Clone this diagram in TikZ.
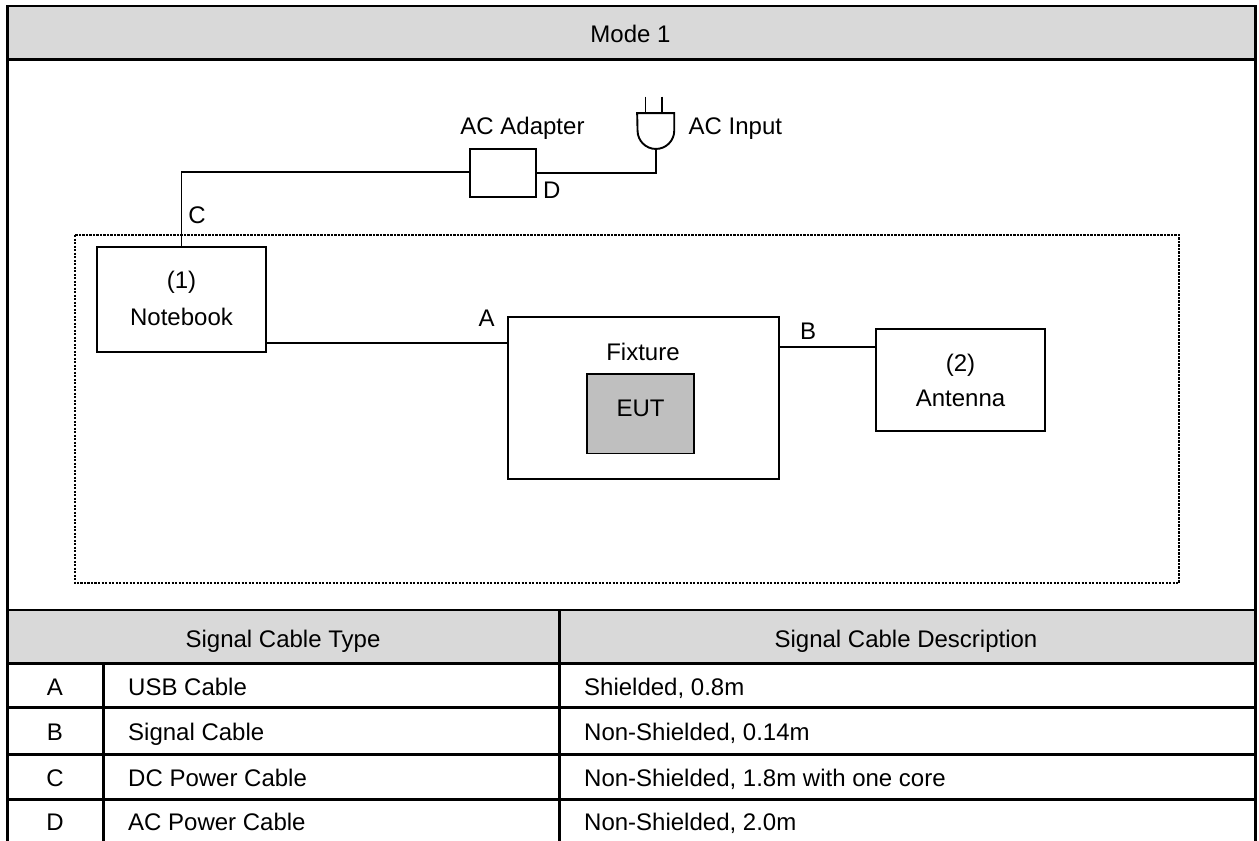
\documentclass[tikz,border=0pt]{standalone}
\usepackage{fontspec}
\setmainfont{Liberation Sans}
\tikzset{
  x=1pt,y=-1pt,
  label text/.style={inner sep=0pt,font=\fontsize{24}{28}\selectfont,text=black,anchor=base},
  unit/.style={draw=black,line width=1.9pt,fill=white,inner sep=0pt,align=center,font=\fontsize{24}{37}\selectfont},
  cable/.style={draw=black,line width=1.9pt},
  rule/.style={draw=black,line width=2.7pt},
  thinrule/.style={draw=black,line width=2.1pt},
  band/.style={fill=black!15,draw=none},
  cell/.style={label text,anchor=base west},
  head/.style={label text}
}
\newcommand{\unitbox}[7]{\node[unit,minimum width=#4 pt,minimum height=#5 pt,#6] (#1) at (#2,#3) {#7};}
\begin{document}
\begin{tikzpicture}
\useasboundingbox (0,0) rectangle (1259,841);
\fill[white] (0,0) rectangle (1259,841);
% bands
\fill[band] (7.5,6) rectangle (1255,59);
\fill[band] (7.5,610) rectangle (1255,664);
% dotted enclosure
\draw[line width=2.6pt,dash pattern=on 2.3pt off 1.2pt] (75,235) rectangle (1179,583);
% units
\unitbox{notebook}{181.5}{299.5}{169}{105}{text depth=3.4pt}{(1)\\Notebook}
\unitbox{fixture}{643.5}{398}{270.4}{161.4}{}{}
\unitbox{eut}{640.5}{413.7}{107.6}{79.5}{fill=black!25,text depth=11pt}{EUT}
\unitbox{antenna}{960.5}{380}{169}{102}{font=\fontsize{24}{35}\selectfont}{(2)\\Antenna}
\unitbox{adapter}{503.3}{172.7}{66}{48}{}{}
% plug
\node[inner sep=0pt,minimum width=36.7pt,minimum height=35.8pt] (plug) at (655.7,131.2) {};
\draw[line width=1.9pt] (plug.north west) -- (plug.north east) -- ++(0,17.5) arc[start angle=0,end angle=-180,radius=18.35pt] -- cycle;
\coordinate (p1) at (645.5,96.7);
\coordinate (p2) at (662,96.7);
\draw[cable] (p1) -- (p1 |- plug.north);
\draw[cable] (p2) -- (p2 |- plug.north);
% connectors
\draw[cable] ([yshift=0.7pt]adapter.west) -| (notebook.north);
\draw[cable] (adapter.east) -| (plug.south);
\draw[cable] ([yshift=-43.2pt]notebook.east) -- ([yshift=55.3pt]fixture.west);
\draw[cable] ([yshift=50.7pt]fixture.east) -- ([yshift=32.7pt]antenna.west);
% labels
\node[label text] (lmode) at (630.5,42.7) {Mode 1};
\node[label text] (ladapter) at (522.5,134) {AC Adapter};
\node[label text,anchor=base west] (linput) at (688.5,134) {AC Input};
\node[label text] (lc) at (197,223) {C};
\node[label text] (ld) at (551.7,198) {D};
\node[label text] (la) at (486.7,326.7) {A};
\node[label text] (lb) at (808,339.3) {B};
\node[label text] (lfix) at (643,360.7) {Fixture};
% table rules
\draw[thinrule] (6,6) -- (1257,6);
\draw[rule] (6,59.5) -- (1257,59.5);
\draw[rule] (7.5,5) -- (7.5,841);
\draw[rule] (1255.5,5) -- (1255.5,841);
\draw[thinrule] (6,610) -- (1257,610);
\draw[rule] (6,663.5) -- (1257,663.5);
\draw[rule] (6,707.7) -- (1257,707.7);
\draw[rule] (6,754.3) -- (1257,754.3);
\draw[rule] (6,799.5) -- (1257,799.5);
\draw[rule] (103.3,663.5) -- (103.3,841);
\draw[rule] (559.5,609) -- (559.5,841);
% table text
\node[head] (h1) at (283,647) {Signal Cable Type};
\node[head] (h2) at (906,647) {Signal Cable Description};
\node[head] (a0) at (55,695.5) {A};
\node[head] (b0) at (55,740) {B};
\node[head] (c0) at (55,786) {C};
\node[head] (d0) at (55,830.5) {D};
\node[cell] (a1) at (128,695.5) {USB Cable};
\node[cell] (b1) at (128,740) {Signal Cable};
\node[cell] (c1) at (128,786) {DC Power Cable};
\node[cell] (d1) at (128,830.5) {AC Power Cable};
\node[cell] (a2) at (584,695.5) {Shielded, 0.8m};
\node[cell] (b2) at (584,740) {Non-Shielded, 0.14m};
\node[cell] (c2) at (584,786) {Non-Shielded, 1.8m with one core};
\node[cell] (d2) at (584,830.5) {Non-Shielded, 2.0m};
\end{tikzpicture}
\end{document}
